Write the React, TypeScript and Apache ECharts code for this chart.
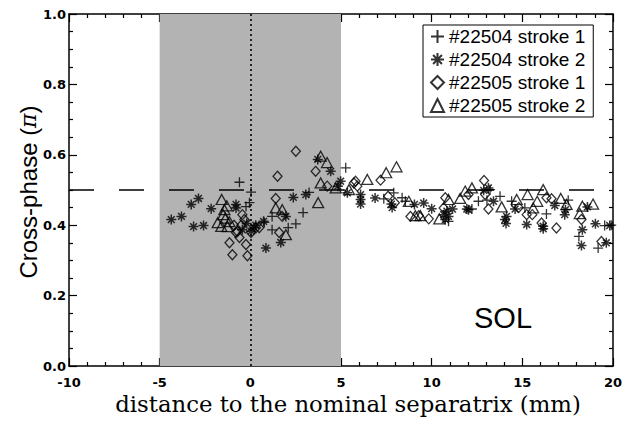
import React, { useEffect, useRef } from "react";
import * as echarts from "echarts";

// ---- data (x in mm, y in units of π) ----
const xRange = { min: -10, max: 20, interval: 5, minorSplit: 5 };
const yRange = { min: 0, max: 1, interval: 0.2, minorSplit: 4 };
const shadeRange = [-5, 5];
const refLevel = 0.5;
const separatrixX = 0;

const xTitle = "distance to the nominal separatrix (mm)";
const yTitle = "Cross-phase ({p|π})";
const regionLabel = "SOL";
const seriesNames = ["#22504 stroke 1", "#22504 stroke 2", "#22505 stroke 1", "#22505 stroke 2"];

const s22504a: [number, number][] = [
  [-0.6, 0.522], [0.04, 0.494], [-0.05, 0.464], [-0.24, 0.453], [0.77, 0.408], [1.2, 0.425],
  [1.2, 0.387], [2.09, 0.393], [2.51, 0.404], [2.91, 0.436], [3.24, 0.493], [5.26, 0.563],
  [7.36, 0.475], [7.91, 0.492], [8.37, 0.478], [8.55, 0.468], [10.93, 0.411], [12.22, 0.446],
  [12.58, 0.468], [13.05, 0.471], [13.22, 0.501], [13.77, 0.482], [14.41, 0.468], [15.14, 0.449],
  [16.33, 0.432], [17.53, 0.471], [18.12, 0.368], [19.18, 0.335], [19.54, 0.399], [19.9, 0.4],
];

const s22504b: [number, number][] = [
  [-4.36, 0.416], [-3.8, 0.425], [-3.26, 0.459], [-2.86, 0.476], [-3.13, 0.396], [-2.58, 0.399],
  [-2.16, 0.447], [-0.79, 0.459], [-0.79, 0.449], [0.04, 0.383], [-0.44, 0.387], [0.22, 0.393],
  [0.3, 0.4], [-0.2, 0.405], [0.73, 0.411], [0.86, 0.335], [1.96, 0.425], [1.68, 0.351],
  [2.37, 0.479], [3.06, 0.487], [3.72, 0.587], [4.43, 0.553], [4.98, 0.525], [4.83, 0.511],
  [5.35, 0.492], [6.08, 0.487], [6.08, 0.473], [6.08, 0.46], [6.88, 0.477], [7.78, 0.46],
  [7.82, 0.45], [9.05, 0.459], [9.56, 0.463], [10.0, 0.447], [10.66, 0.43], [10.84, 0.44],
  [10.93, 0.425], [11.15, 0.446], [10.75, 0.416], [11.94, 0.446], [12.03, 0.444], [12.87, 0.499],
  [13.13, 0.506], [13.41, 0.468], [14.04, 0.416], [14.1, 0.405], [14.13, 0.425], [14.6, 0.446],
  [15.24, 0.402], [16.15, 0.397], [16.15, 0.39], [16.79, 0.456], [17.34, 0.43], [17.38, 0.444],
  [18.31, 0.387], [18.26, 0.342], [18.59, 0.452], [19.03, 0.404], [19.82, 0.399], [19.63, 0.35],
];

const s22505a: [number, number][] = [
  [-0.99, 0.316], [-0.16, 0.313], [-1.15, 0.35], [-0.24, 0.345], [-0.71, 0.382], [-0.33, 0.416],
  [-0.44, 0.43], [-0.6, 0.365], [-0.79, 0.379], [0.04, 0.379], [0.31, 0.393], [0.49, 0.393],
  [-0.9, 0.4], [-0.5, 0.4], [1.5, 0.539], [2.51, 0.61], [1.4, 0.476], [1.76, 0.425],
  [1.59, 0.379], [3.6, 0.553], [4.24, 0.511], [5.71, 0.52], [5.8, 0.525], [5.9, 0.511],
  [7.18, 0.528], [7.6, 0.482], [7.97, 0.464], [8.83, 0.425], [9.29, 0.427], [9.84, 0.418],
  [10.75, 0.478], [10.66, 0.449], [12.03, 0.487], [12.89, 0.527], [12.95, 0.487], [13.13, 0.446],
  [14.8, 0.45], [15.24, 0.43], [15.55, 0.43], [16.06, 0.406], [16.33, 0.478], [16.61, 0.475],
  [16.88, 0.392], [18.26, 0.416], [19.36, 0.354],
];

const s22505b: [number, number][] = [
  [-1.58, 0.473], [-1.43, 0.444], [-1.37, 0.42], [-1.6, 0.397], [-1.8, 0.407], [-1.26, 0.396],
  [-1.15, 0.41], [-1.5, 0.43], [-1.3, 0.455], [1.4, 0.449], [1.76, 0.444], [1.96, 0.373],
  [3.74, 0.464], [3.88, 0.596], [4.23, 0.578], [3.88, 0.52], [4.71, 0.506], [5.44, 0.501],
  [6.45, 0.53], [7.49, 0.549], [8.06, 0.566], [8.74, 0.468], [9.1, 0.427], [9.38, 0.427],
  [10.42, 0.418], [10.93, 0.473], [11.57, 0.476], [11.85, 0.497], [12.22, 0.506], [13.86, 0.452],
  [14.69, 0.473], [15.29, 0.487], [15.6, 0.449], [15.82, 0.468], [16.15, 0.501], [17.12, 0.476],
  [17.44, 0.459], [18.17, 0.433], [18.31, 0.454], [18.9, 0.46],
];

const PLUS = "path://M5 0V10M0 5H10";
const STAR = "path://M5 0V10M0 5H10M1.6 1.6L8.4 8.4M8.4 1.6L1.6 8.4";

const SANS = "Liberation Sans";
const tickStyle = { color: "#000", width: 1.2 };
const gridRect = { left: 69, right: 17, top: 14, bottom: 56 };

// decorated frame axes (ticks and labels), living on their own grid with the same rect
function frameAxis(kind: string, position: string, labels: boolean) {
  const r = kind === "x" ? xRange : yRange;
  const a: any = {
    type: "value",
    gridIndex: 1,
    position,
    min: r.min,
    max: r.max,
    interval: r.interval,
    axisLine: { show: true, onZero: false, lineStyle: { color: "#000", width: 1.5 } },
    axisTick: { show: true, inside: true, length: 8, lineStyle: tickStyle },
    minorTick: { show: true, splitNumber: r.minorSplit, length: 4, lineStyle: tickStyle },
    splitLine: { show: false },
    axisLabel: labels
      ? { show: true, color: "#000", fontFamily: "DejaVu Sans", fontWeight: "bold", fontSize: 13 }
      : { show: false },
  };
  return a;
}

// data axes on grid 0, hidden
function dataAxis(kind: string) {
  const r = kind === "x" ? xRange : yRange;
  return { type: "value", gridIndex: 0, min: r.min, max: r.max, interval: r.interval, show: false, splitLine: { show: false } };
}

export default function App() {
  const ref = useRef<HTMLDivElement>(null);
  useEffect(() => {
    if (!ref.current) return;
    const chart = echarts.init(ref.current, null, { renderer: "svg" });
    const pointStyle = { color: "transparent", borderColor: "#000", borderWidth: 1.3 };

    const xBottom = frameAxis("x", "bottom", true);
    xBottom.axisLabel.margin = 10;
    const yLeft = frameAxis("y", "left", true);
    yLeft.axisLabel.margin = 3;
    yLeft.axisLabel.formatter = (v: number) => v.toFixed(1);

    chart.setOption({
      animation: false,
      backgroundColor: "#fff",
      grid: [{ ...gridRect }, { ...gridRect }],
      xAxis: [dataAxis("x"), xBottom, frameAxis("x", "top", false)],
      yAxis: [dataAxis("y"), yLeft, frameAxis("y", "right", false)],
      legend: {
        orient: "vertical",
        left: 423,
        top: 25,
        padding: [2, 8, 2, 7],
        itemGap: 4,
        itemWidth: 13,
        itemHeight: 13,
        backgroundColor: "#fff",
        borderColor: "#000",
        borderWidth: 1,
        borderRadius: 0,
        textStyle: { fontFamily: SANS, fontSize: 19, color: "#000" },
        data: seriesNames,
      },
      graphic: [
        {
          type: "text",
          x: 348,
          y: 404,
          style: {
            text: xTitle,
            fontFamily: "DejaVu Serif",
            fontSize: 22.8,
            fill: "#000",
            align: "center",
            verticalAlign: "middle",
          },
        },
        {
          type: "text",
          x: 28,
          y: 192,
          rotation: Math.PI / 2,
          style: {
            text: yTitle,
            fontFamily: SANS,
            fontSize: 24,
            fill: "#000",
            align: "center",
            verticalAlign: "middle",
            rich: {
              p: { fontFamily: "DejaVu Serif", fontStyle: "italic", fontSize: 22, fill: "#000" },
            },
          },
        },
        {
          type: "text",
          x: 503,
          y: 318,
          style: {
            text: regionLabel,
            fontFamily: SANS,
            fontSize: 29,
            fill: "#000",
            align: "center",
            verticalAlign: "middle",
          },
        },
      ],
      series: [
        {
          type: "line",
          name: "ref",
          xAxisIndex: 0,
          yAxisIndex: 0,
          data: [
            [xRange.min, refLevel],
            [xRange.max, refLevel],
          ],
          symbol: "none",
          silent: true,
          lineStyle: { color: "#000", width: 1.3, type: [25, 25] },
          markArea: {
            silent: true,
            itemStyle: { color: "#b3b3b3" },
            data: [[{ xAxis: shadeRange[0] }, { xAxis: shadeRange[1] }]],
          },
          markLine: {
            silent: true,
            symbol: "none",
            label: { show: false },
            lineStyle: { color: "#000", width: 1.6, type: [2, 3] },
            data: [{ xAxis: separatrixX }],
          },
        },
        { type: "scatter", name: seriesNames[0], xAxisIndex: 0, yAxisIndex: 0, data: s22504a, symbol: PLUS, symbolSize: 10, itemStyle: pointStyle },
        {
          type: "scatter",
          name: seriesNames[1],
          xAxisIndex: 0,
          yAxisIndex: 0,
          data: s22504b,
          symbol: STAR,
          symbolSize: 10,
          itemStyle: { ...pointStyle, borderWidth: 1.5 },
        },
        { type: "scatter", name: seriesNames[2], xAxisIndex: 0, yAxisIndex: 0, data: s22505a, symbol: "diamond", symbolSize: [9, 10], itemStyle: pointStyle },
        { type: "scatter", name: seriesNames[3], xAxisIndex: 0, yAxisIndex: 0, data: s22505b, symbol: "triangle", symbolSize: [11, 10], itemStyle: pointStyle },
      ],
    });
    return () => chart.dispose();
  }, []);
  return <div ref={ref} style={{ width: 630, height: 422, position: "absolute", left: 0, top: 0 }} />;
}
